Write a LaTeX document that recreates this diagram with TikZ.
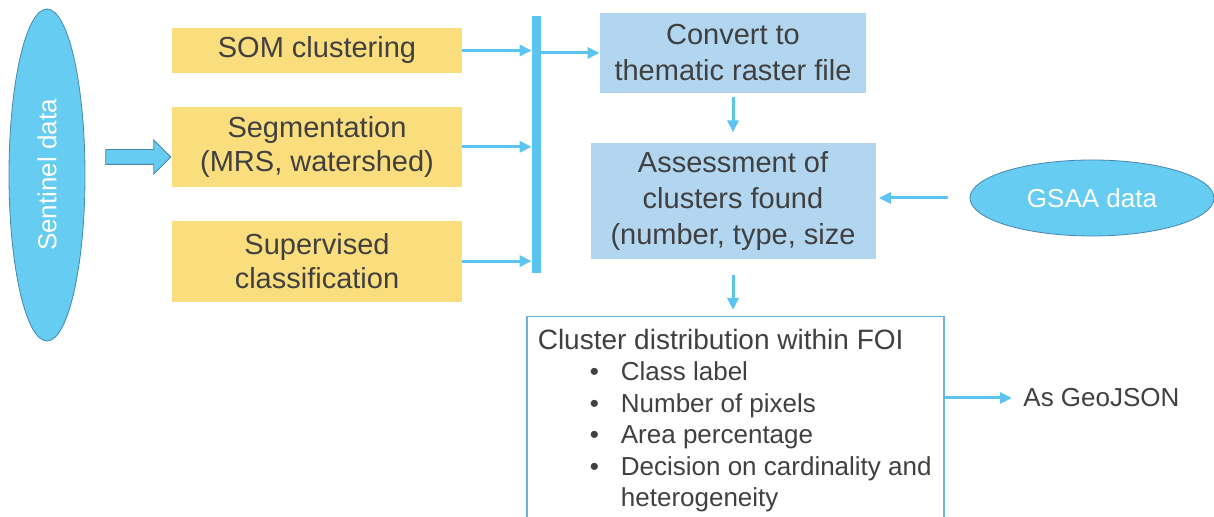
\documentclass[tikz,border=0pt]{standalone}
\usepackage{fontspec}
\setmainfont{Liberation Sans}
\usetikzlibrary{arrows.meta, positioning, shapes.geometric, shapes.arrows}

\definecolor{skyfill}{RGB}{102,204,242}
\definecolor{skyline}{RGB}{70,135,175}
\definecolor{methodyellow}{RGB}{250,221,124}
\definecolor{stepblue}{RGB}{178,214,239}
\definecolor{linkblue}{RGB}{92,196,240}
\definecolor{frameblue}{RGB}{110,176,225}
\definecolor{textgray}{RGB}{64,64,64}

\begin{document}
\begin{tikzpicture}[
    x=0.5pt, y=-0.5pt, >={Triangle[length=6pt,width=5.5pt]},
    link/.style={->, draw=linkblue, line width=1.5pt},
    source/.style={draw=skyline, line width=0.4pt, fill=skyfill, ellipse,
                   text=white, font=\fontsize{13}{15}\selectfont},
    method/.style={fill=methodyellow, minimum width=145pt, align=center,
                   text=textgray, font=\fontsize{14.5}{17}\selectfont},
    stepbox/.style={fill=stepblue, align=center, text=textgray,
                    font=\fontsize{14.5}{18}\selectfont}
  ]
  \useasboundingbox (0,0) rectangle (1214,517);

  % input data
  \node[source, rotate=90, minimum width=166pt, minimum height=38pt] (sent) at (47,175) {Sentinel data};
  \node[single arrow, draw=skyline, line width=0.4pt, fill=skyfill, inner xsep=0pt, inner ysep=3.5pt,
        minimum height=32.5pt, single arrow head extend=4.75pt] (feed) at (134.5,157) {};

  % three methods
  \node[method, minimum height=22.5pt] (som) at (317,50.5) {SOM clustering};
  \node[method, minimum height=40pt, below=16.5pt of som] (seg) {Segmentation\\(MRS, watershed)};
  \node[method, minimum height=40.5pt, below=16.5pt of seg] (sup) {Supervised\\classification};

  \node[fill=linkblue, inner sep=0pt, minimum width=4.5pt, minimum height=128.5pt] (bar) at (536.5,144.5) {};

  % processing steps
  \node[stepbox, minimum width=133pt, minimum height=40pt] (conv) at (733,53) {Convert to\\thematic raster file};
  \node[stepbox, minimum width=142.5pt, minimum height=58pt, below=24.5pt of conv] (assess) {Assessment of\\clusters found\\(number, type, size};
  \node[source, minimum width=122pt, minimum height=38pt] (gsaa) at (1092,198) {GSAA data};

  \node[draw=frameblue, line width=0.6pt, fill=white, anchor=north,
        minimum width=208.5pt, minimum height=110pt] (foi) at (735.5,316) {};
  \node[anchor=north west, inner sep=0pt, align=left, text=textgray,
        font=\fontsize{13}{15.75}\selectfont] (foitext) at ([xshift=5.5pt,yshift=-5.5pt]foi.north west) {%
    \begin{tabular}{@{\hspace{26pt}}l@{\hspace{11pt}}l@{}}
      \multicolumn{2}{@{}l@{}}{\fontsize{14}{16}\selectfont Cluster distribution within FOI}\\
      \textbullet & Class label\\
      \textbullet & Number of pixels\\
      \textbullet & Area percentage\\
      \textbullet & Decision on cardinality and\\
                  & heterogeneity
    \end{tabular}};
  \node[anchor=west, inner xsep=5.5pt, text=textgray, font=\fontsize{13}{15}\selectfont] (geo) at (1012,398) {As GeoJSON};

  % connectors
  \draw[link] (som.east) -- (som.east -| bar.west);
  \draw[link] (seg.east) -- (seg.east -| bar.west);
  \draw[link] (sup.east) -- (sup.east -| bar.west);
  \draw[link] (bar.east |- conv.west) -- (conv.west);
  \draw[link, shorten <=2pt, shorten >=5pt] (conv.south) -- (assess.north);
  \draw[link, shorten <=11pt, shorten >=1.5pt] (gsaa.west) -- (gsaa.west -| assess.east);
  \draw[link, shorten <=8pt, shorten >=3pt] (assess.south) -- (assess.south |- foi.north);
  \draw[link] (foi.east |- geo.west) -- (geo.west);
\end{tikzpicture}
\end{document}
